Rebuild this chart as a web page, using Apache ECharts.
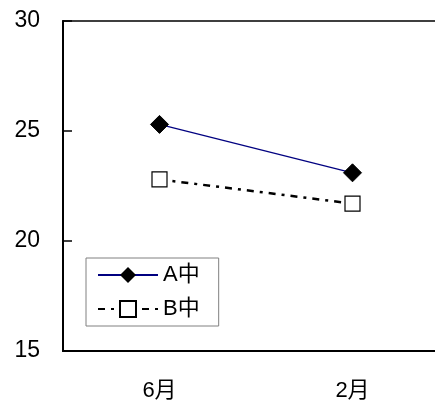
<!DOCTYPE html>
<html><head><meta charset="utf-8">
<script src="https://cdn.jsdelivr.net/npm/echarts@6/dist/echarts.min.js"></script>
<style>html,body{margin:0;padding:0;background:#fff}#c{width:435px;height:403px}</style>
</head><body><div id="c"></div>
<script>
const categories = ['6月', '2月'];
const seriesA = [25.3, 23.1];
const seriesB = [22.8, 21.7];
const yTicks = [15, 20, 25, 30];
const names = ['A中', 'B中'];

const chart = echarts.init(document.getElementById('c'), null, {renderer: 'canvas'});
const font = '"Liberation Sans", "Noto Sans CJK JP", sans-serif';
chart.setOption({
  animation: false,
  backgroundColor: '#fff',
  grid: {left: 63, top: 21, width: 386, height: 330, show: true, borderColor: '#000', borderWidth: 1.5,
         containLabel: false, outerBoundsMode: 'none'},
  legend: {
    left: 86, top: 258, orient: 'vertical',
    borderColor: '#808080', borderWidth: 1, padding: [6, 19, 6, 11],
    itemWidth: 60, itemHeight: 20, itemGap: 12,
    textStyle: {fontFamily: font, fontSize: 22, color: '#000', lineHeight: 22},
    data: names
  },
  xAxis: {
    type: 'category', data: categories, boundaryGap: true,
    axisLine: {lineStyle: {color: '#000', width: 2}},
    axisTick: {inside: true, length: 9, lineStyle: {color: '#000', width: 1.5}},
    axisLabel: {fontFamily: font, fontSize: 22, color: '#000', margin: 29}
  },
  yAxis: {
    type: 'value', min: yTicks[0], max: yTicks[yTicks.length - 1], interval: 5,
    axisLine: {show: true, lineStyle: {color: '#000', width: 2}},
    axisTick: {show: true, inside: true, length: 9, lineStyle: {color: '#000', width: 1.5}},
    splitLine: {show: false},
    axisLabel: {fontFamily: font, fontSize: 23, color: '#000', margin: 23}
  },
  series: [
    {
      name: names[0], type: 'line', data: seriesA,
      symbol: 'diamond', symbolSize: 18,
      lineStyle: {color: '#000080', width: 1.2},
      itemStyle: {color: '#000', borderColor: '#000'}
    },
    {
      name: names[1], type: 'line', data: seriesB,
      symbol: 'rect', symbolSize: 15,
      lineStyle: {color: '#000', width: 2.5, type: [7, 6, 3, 6]},
      itemStyle: {color: '#fff', borderColor: '#000', borderWidth: 1.2}
    }
  ]
});
</script></body></html>
